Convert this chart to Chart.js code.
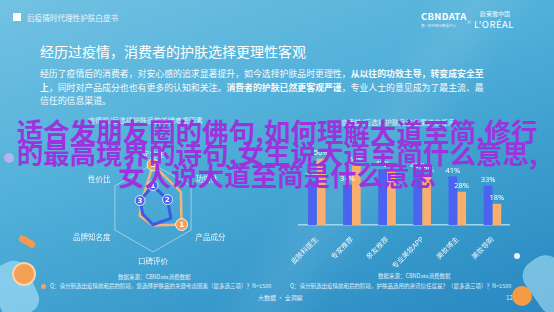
<!DOCTYPE html>
<html>
<head>
<meta charset="utf-8">
<script src="https://cdn.jsdelivr.net/npm/chart.js"></script>
<style>
  html, body { margin: 0; padding: 0; }
  body { width: 554px; height: 312px; overflow: hidden; position: relative;
    font-family: "Noto Sans CJK SC", "Noto Sans", sans-serif; color: #fff;
    background: linear-gradient(160deg, #72c2e3 0%, #52b0d9 40%, #3799cb 75%, #2887c0 100%); }
  .band { position: absolute; left: 0; top: 0; width: 554px; height: 312px;
    background: linear-gradient(125deg, rgba(255,255,255,0) 55%, rgba(255,255,255,0.08) 62%, rgba(255,255,255,0) 70%); }
  .abs { position: absolute; white-space: nowrap; }
  .hdr { left: 27px; top: 12px; font-size: 7.6px; opacity: .85; }
  .sq { left: 13px; top: 13px; width: 8px; height: 8px; background: #fff; }
  .title { left: 40px; top: 41px; font-size: 14px; }
  .para { left: 40px; top: 67px; font-size: 8.9px; line-height: 13.5px; opacity: .95; }
  .para b { font-weight: 700; }
  .ctitle { font-size: 7px; opacity: .8; }
  .small { font-size: 5.5px; opacity: .85; }
  .overlay { position: absolute; left: 0; top: 120px; width: 554px; text-align: center;
    font-size: 26.5px; line-height: 22px; font-weight: 700; color: #9c33dd; }
  .box { position: absolute; }
</style>
</head>
<body>
<div class="band"></div>
<div class="abs sq"></div>
<div class="abs hdr">后疫情时代理性护肤白皮书</div>
<div class="abs" style="left:421px;top:9px;font-size:9.5px;font-weight:700;letter-spacing:.3px">CBNDATA</div>
<div class="abs" style="left:421px;top:23px;font-size:3.5px;opacity:.8">第一财经商业数据中心</div>
<div class="abs" style="left:466px;top:17px;font-size:6px;opacity:.8">×</div>
<div class="abs" style="left:480px;top:9px;font-size:6px;opacity:.9">欧莱雅中国</div>
<div class="abs" style="left:474px;top:17px;font-size:9.5px;letter-spacing:.5px">L'ORÉAL</div>
<div class="abs title">经历过疫情，消费者的护肤选择更理性客观</div>
<div class="abs para">经历了疫情后的消费者，对安心感的追求显著提升，如今选择护肤品时更理性，<b>从以往的功效主导，转变成安全至</b><br><b>上</b>，同时对产品成分也也有更多的认知和关注。<b>消费者的护肤已然更客观严谨</b>，专业人士的意见成为了最主流、最<br>信任的信息渠道。</div>

<div class="abs ctitle" style="left:88px;top:115px">疫情前/后选择护肤品的关键考虑因素</div>
<div class="abs ctitle" style="left:340px;top:117px">疫情前/后选择护肤品信息渠道信任度</div>

<div class="box" style="left:53px;top:150px;width:200px;height:116px"><canvas id="radar"></canvas></div>
<div class="box" style="left:290px;top:142px;width:220px;height:130px"><canvas id="bars"></canvas></div>

<div class="abs small" style="left:118px;top:273px">数据来源：CBNData消费数据</div>
<div class="abs small" style="left:50px;top:282px">Q：请分别选出疫情前和后的阶段，您选择护肤品的关键考虑因素（最多选三项）？N=1500</div>
<div class="abs small" style="left:378px;top:272px">数据来源：CBNData消费数据</div>
<div class="abs small" style="left:290px;top:282px">Q：请分别选出疫情前和后的阶段，护肤品选用的资讯信任度是？（最多选三项）？N=1500</div>
<div class="abs" style="left:258px;top:293px;font-size:6px;opacity:.85">大数据 · 全洞察</div>
<div class="abs" style="left:506px;top:293px;font-size:6px;opacity:.85">12</div>

<!-- decorations -->
<div class="abs" style="left:41px;top:284px;width:5px;height:5px;border-radius:50%;background:#f6a45e"></div>
<div class="abs" style="left:4px;top:153px;width:10px;height:10px;border-radius:50%;background:#c9b6ee;opacity:.8"></div>
<div class="abs" style="left:-6px;top:262px;width:40px;height:55px;border-radius:14px;background:rgba(160,220,245,.7);transform:rotate(-25deg)"></div>
<div class="abs" style="left:12px;top:262px;width:20px;height:20px;border-radius:50%;background:#f3a055;border:2px solid #fbd3a8"></div>
<div class="abs" style="left:18px;top:238px;width:18px;height:7px;border-radius:4px;background:#f19a52;transform:rotate(30deg)"></div>
<div class="abs" style="left:514px;top:253px;width:6px;height:6px;border-radius:50%;background:#eaf6ff"></div>
<div class="abs" style="left:530px;top:255px;width:40px;height:60px;border-radius:16px;background:rgba(170,225,245,.6);transform:rotate(-35deg)"></div>
<div class="abs" style="left:512px;top:286px;width:20px;height:20px;border-radius:50%;background:#f59a45"></div>

<div class="overlay">适合发朋友圈的佛句,如何理解大道至简,修行<br>的最高境界的诗句,女生说大道至简什么意思,<br>女人说大道至简是什么意思</div>

<script>
  // radar: 关键考虑因素
  var radarLabels = ["安全性", "功效性", "产品成分", "口碑评价", "品牌知名度", "性价比"];
  var radarBefore = [51, 38, 47, 38, 27, 34];
  var radarAfter = [98, 73, 75, 40, 35, 30];
  var rankBefore = ["1", "2", "", "", "", "3"];
  var rankAfter = ["2", "", "1", "", "", ""];

  // bars: 信息渠道信任度
  var channels = ["皮肤科医生", "专家推荐", "亲友推荐", "专业美妆APP", "美妆博主", "美妆导购"];
  var before = [37, 34, 47, 45, 41, 33];
  var after = [56, 50, 45, 42, 28, 18];

  var BLUE = "#4a63f0";
  var ORANGE = "#f8ae6e";

  var rankPlugin = {
    id: "ranks",
    afterDatasetsDraw: function(chart) {
      var ctx = chart.ctx;
      var sets = [[0, rankBefore, BLUE, 5], [1, rankAfter, "#f5a15c", 6]];
      sets.forEach(function(s) {
        var meta = chart.getDatasetMeta(s[0]);
        meta.data.forEach(function(pt, i) {
          var t = s[1][i];
          if (!t) return;
          ctx.save();
          ctx.beginPath();
          ctx.arc(pt.x, pt.y, s[3], 0, Math.PI * 2);
          ctx.fillStyle = s[2];
          ctx.fill();
          ctx.lineWidth = 1;
          ctx.strokeStyle = "rgba(255,255,255,0.8)";
          ctx.stroke();
          ctx.fillStyle = "#fff";
          ctx.font = "bold 7px 'DejaVu Sans'";
          ctx.textAlign = "center";
          ctx.textBaseline = "middle";
          ctx.fillText(t, pt.x, pt.y + 0.5);
          ctx.restore();
        });
      });
    }
  };

  new Chart(document.getElementById("radar"), {
    type: "radar",
    data: {
      labels: radarLabels,
      datasets: [
        { label: "疫情前", data: radarBefore, borderColor: "#3b5be8", borderWidth: 3,
          backgroundColor: "transparent", pointRadius: 0 },
        { label: "疫情后", data: radarAfter, borderColor: "#f2b57a", borderWidth: 2.5,
          backgroundColor: "transparent", pointRadius: 0 }
      ]
    },
    options: {
      responsive: true, maintainAspectRatio: false, animation: false,
      plugins: { legend: { display: false }, tooltip: { enabled: false } },
      layout: { padding: 0 },
      scales: {
        r: {
          min: 0, max: 100,
          ticks: { display: false, stepSize: 100 },
          grid: { color: "rgba(255,255,255,0.45)", lineWidth: 1 },
          angleLines: { display: false },
          pointLabels: { color: "rgba(255,255,255,0.9)", font: { size: 7.5, family: "Noto Sans CJK SC" }, padding: 5 }
        }
      }
    },
    plugins: [rankPlugin]
  });

  var valuePlugin = {
    id: "values",
    afterDatasetsDraw: function(chart) {
      var ctx = chart.ctx;
      ctx.save();
      ctx.fillStyle = "#fff";
      ctx.font = "7.5px 'Noto Sans'";
      ctx.textAlign = "center";
      ctx.textBaseline = "bottom";
      chart.data.datasets.forEach(function(ds, di) {
        chart.getDatasetMeta(di).data.forEach(function(bar, i) {
          ctx.fillText(ds.data[i] + "%", bar.x, bar.y - 2);
        });
      });
      ctx.restore();
    }
  };

  new Chart(document.getElementById("bars"), {
    type: "bar",
    data: {
      labels: channels,
      datasets: [
        { label: "疫情前", data: before, backgroundColor: BLUE },
        { label: "疫情后", data: after, backgroundColor: ORANGE }
      ]
    },
    options: {
      responsive: true, maintainAspectRatio: false, animation: false,
      plugins: { legend: { display: false }, tooltip: { enabled: false } },
      datasets: { bar: { barPercentage: 1, categoryPercentage: 0.5 } },
      layout: { padding: { left: 0, right: 0, top: 0, bottom: 0 } },
      scales: {
        x: {
          grid: { display: false },
          border: { color: "#9bd8f2", width: 1.5 },
          ticks: { color: "rgba(255,255,255,0.9)", font: { size: 7, family: "Noto Sans CJK SC" },
            minRotation: 45, maxRotation: 45, padding: 2 }
        },
        y: { display: false, min: 0, max: 70 }
      }
    },
    plugins: [valuePlugin]
  });
</script>
</body>
</html>
